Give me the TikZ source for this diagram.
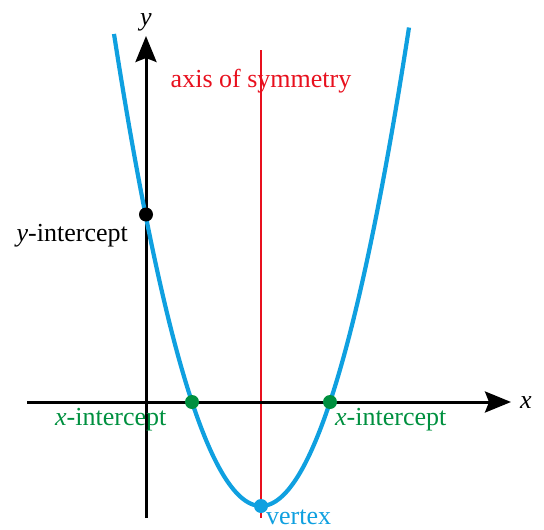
\documentclass[tikz,border=0pt]{standalone}
\usepackage{fontspec}
\setmainfont{Liberation Serif}
\usetikzlibrary{arrows.meta}
\definecolor{curveblue}{HTML}{0FA0E0}
\definecolor{symred}{HTML}{E8101E}
\definecolor{intgreen}{HTML}{00903F}
\tikzset{
  axisline/.style={line width=3pt,-{Stealth[length=26pt,width=21pt,inset=4pt]}},
  lbl/.style={inner sep=0pt,font=\fontsize{26}{30}\selectfont},
  dotpt/.style={circle,fill=#1,inner sep=0pt,minimum size=14pt}
}
\begin{document}
\begin{tikzpicture}[x=1pt,y=-1pt]
\useasboundingbox (0,0) rectangle (544,530);
% axis of symmetry
\coordinate (sTop) at (261,50);
\coordinate (sBot) at (261,518);
\draw[symred,line width=2.4pt] (sTop) -- (sBot);
% axes
\coordinate (xL) at (27,402);
\coordinate (xR) at (511,402);
\coordinate (yB) at (146,518);
\coordinate (yT) at (146,36);
\draw[axisline] (xL) -- (xR);
\draw[axisline] (yB) -- (yT);
% parabola
\draw[curveblue,line width=4.2pt,domain=114:409,samples=120,smooth] plot ({\x},{506-104*((\x-261)/69)^2});
% points
\node[dotpt=black] (yint) at (146,214.5) {};
\node[dotpt=intgreen] (xint1) at (192,402) {};
\node[dotpt=intgreen] (xint2) at (330,402) {};
\node[dotpt=curveblue] (vert) at (261,506) {};
% labels
\node[lbl,anchor=base] (ylab) at (146,25) {\textit{y}};
\node[lbl,anchor=base west] (xlab) at (520,408) {\textit{x}};
\node[lbl,symred,anchor=base] (symlab) at (261,87) {axis of symmetry};
\node[lbl,anchor=base east] (yintlab) at (128,241) {\textit{y}-intercept};
\node[lbl,intgreen,anchor=base west] (xintlab1) at (55,425) {\textit{x}-intercept};
\node[lbl,intgreen,anchor=base west] (xintlab2) at (335,425) {\textit{x}-intercept};
\node[lbl,curveblue,anchor=base west] (vertlab) at (266,524) {vertex};
\end{tikzpicture}
\end{document}
